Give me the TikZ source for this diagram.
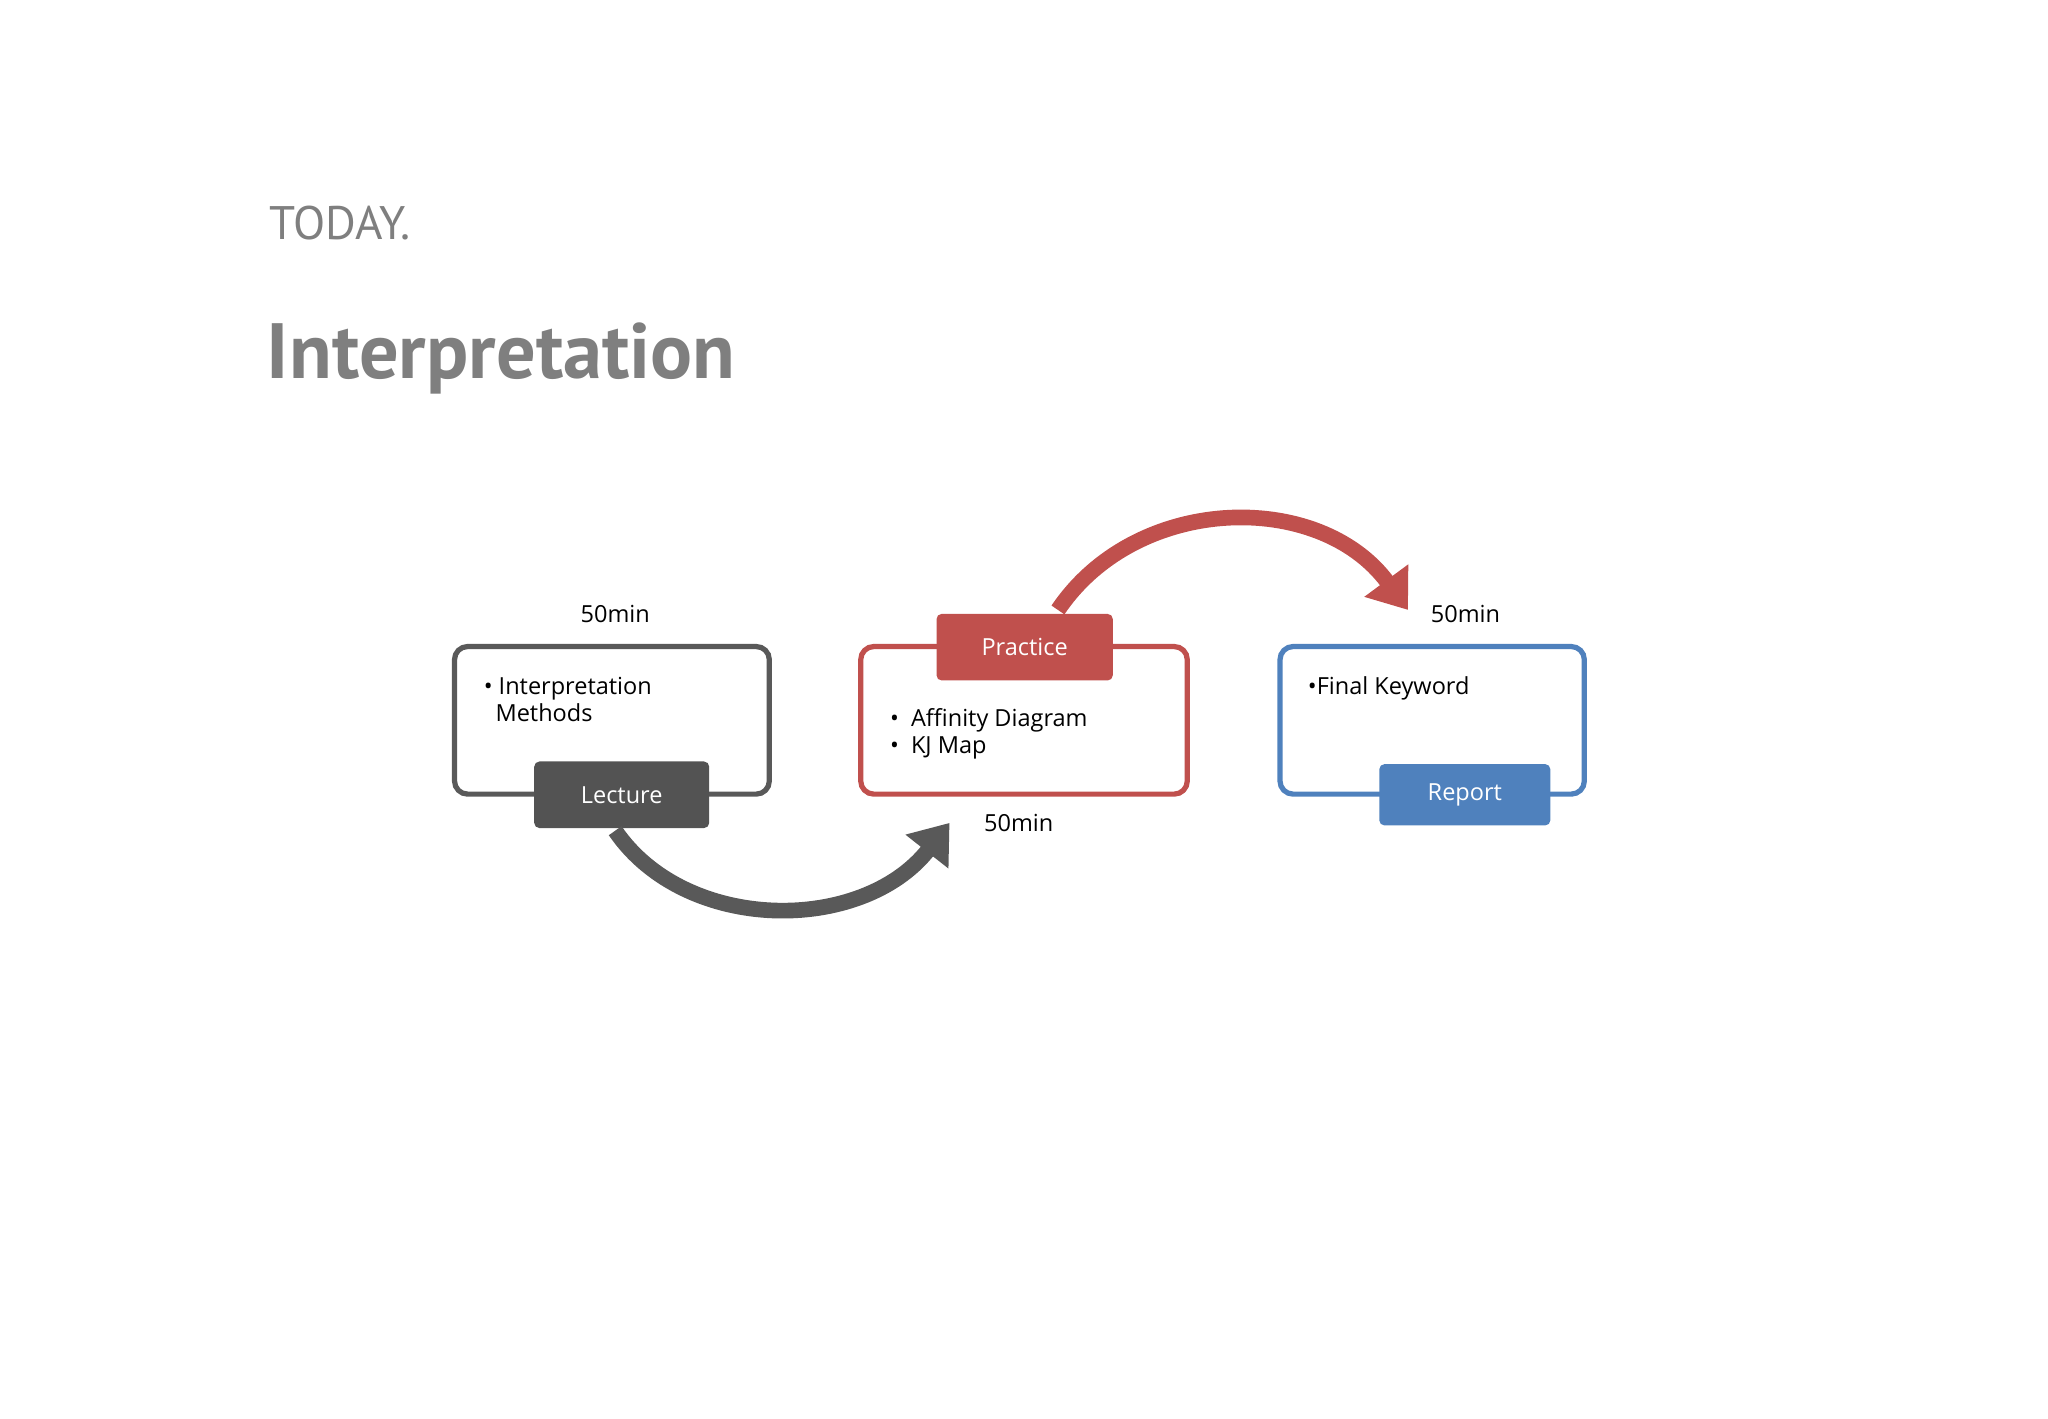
\documentclass[tikz,border=0pt]{standalone}
\usepackage{fontspec}
\setmainfont{Open Sans}
\newfontfamily\ptsans{PT Sans}
\usetikzlibrary{arrows.meta}
\definecolor{dg}{HTML}{595959}
\definecolor{rd}{HTML}{C0504D}
\definecolor{bl}{HTML}{4F81BD}
\definecolor{tg}{HTML}{7F7F7F}
\begin{document}
\begin{tikzpicture}[x=0.5pt,y=-0.5pt,
 box/.style={draw,line width=2pt,rounded corners=5pt,inner sep=0pt},
 tab/.style={rounded corners=2pt,text=white,font=\fontsize{9}{11}\selectfont,inner sep=0pt},
 lbl/.style={font=\fontsize{9}{10.5}\selectfont,inner sep=0pt},
 arr/.style={line width=6pt,-{Triangle[length=14pt,width=20pt]}}]
\useasboundingbox (0,0) rectangle (1568,1086);
\node[anchor=base west,text=tg,font=\ptsans\fontsize{18}{22}\selectfont,inner sep=0pt] (today) at (206,183) {TODAY.};
\node[anchor=base west,text=tg,font=\ptsans\fontsize{30}{36}\selectfont\bfseries,inner sep=0pt] (title) at (204,290) {Interpretation};
% boxes
\node[box,dg,minimum width=120.5pt,minimum height=56.5pt] (b1) at (468.5,551.5) {};
\node[box,rd,minimum width=125pt,minimum height=56.5pt] (b2) at (784,551.5) {};
\node[box,bl,minimum width=116.5pt,minimum height=56.5pt] (b3) at (1096.5,551.5) {};
\node[tab,fill=dg!93!black,minimum width=67pt,minimum height=25.5pt] (lec) at (476,608.5) {Lecture};
\node[tab,fill=rd,minimum width=67.5pt,minimum height=25.5pt] (pra) at (784.5,495.5) {Practice};
\node[tab,fill=bl,minimum width=65.5pt,minimum height=23.5pt] (rep) at (1121.5,608.5) {Report};
% labels
\node[lbl] (t1) at (471,470) {50min};
\node[lbl] (t2) at (780,630) {50min};
\node[lbl] (t3) at (1122,470) {50min};
\node[lbl,anchor=north west,align=left] (c1) at (370,518) {•\ Interpretation\\\hspace{4.5pt}Methods};
\node[lbl,anchor=north west,align=left] (c2) at (681,542) {•\ \ Affinity Diagram\\•\ \ KJ Map};
\node[lbl,anchor=north west,align=left] (c3) at (1001,518) {•Final Keyword};
% arrows
\coordinate (g1) at (727,630);
\coordinate (r1) at (1078,467);
\draw[arr,dg] (471,636) .. controls (525,715) and (660,715) .. (g1);
\draw[arr,rd] (810,467) .. controls (870,378) and (1010,375) .. (r1);
\end{tikzpicture}
\end{document}
